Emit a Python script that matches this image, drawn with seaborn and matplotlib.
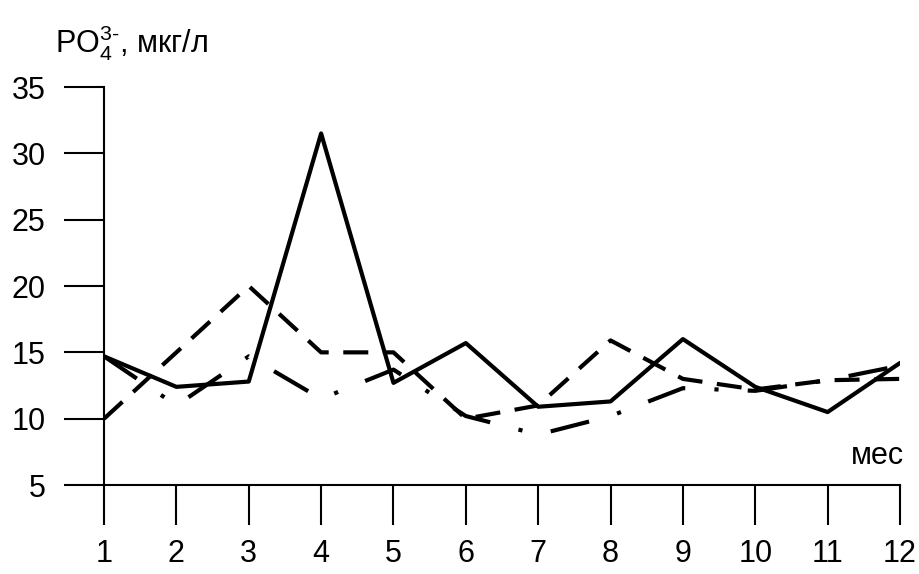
# Monthly PO4 concentration, three observation series
import pandas as pd
import matplotlib.pyplot as plt
import seaborn as sns

months = list(range(1, 13))
series_solid = [14.7, 12.4, 12.8, 31.5, 12.7, 15.7, 10.9, 11.3, 16.0, 12.4, 10.5, 14.2]
series_dashed = [10.0, 15.0, 20.0, 15.0, 15.0, 10.0, 11.0, 15.9, 13.0, 12.2, 12.9, 13.0]
series_dashdot = [14.7, 11.0, 14.7, 11.5, 13.7, 10.2, 8.8, 10.2, 12.3, 12.1, 12.9, 14.0]
y_ticks = [5, 10, 15, 20, 25, 30, 35]

df = pd.concat([
    pd.DataFrame({"month": months, "value": series_solid, "series": "a"}),
    pd.DataFrame({"month": months, "value": series_dashed, "series": "b"}),
    pd.DataFrame({"month": months, "value": series_dashdot, "series": "c"}),
])

sns.set_style("ticks")
plt.rcParams["font.family"] = ["Liberation Sans", "DejaVu Sans"]
plt.rcParams["text.color"] = "black"
plt.rcParams["xtick.color"] = "black"
plt.rcParams["ytick.color"] = "black"
plt.rcParams["mathtext.fontset"] = "custom"
plt.rcParams["mathtext.rm"] = "Liberation Sans"
plt.rcParams["mathtext.it"] = "Liberation Sans"
plt.rcParams["mathtext.default"] = "regular"

fig = plt.figure(figsize=(9.19, 5.74), dpi=100)
ax = fig.add_axes([0.1132, 0.155, 0.8661, 0.6934])

sns.lineplot(data=df, x="month", y="value", style="series", ax=ax,
             dashes={"a": "", "b": (6, 3.5), "c": (9.5, 7, 1, 7)},
             color="black", linewidth=3, legend=False)

ax.set_xlim(1, 12)
ax.set_ylim(5, 35)
ax.set_xticks(months)
ax.set_yticks(y_ticks)
ax.tick_params(direction="out", length=29, width=1.5, labelsize=22,
               color="black", labelcolor="black")
ax.tick_params(axis="y", pad=13)
ax.tick_params(axis="x", pad=10)
for side in ["top", "right"]:
    ax.spines[side].set_visible(False)
for side in ["left", "bottom"]:
    ax.spines[side].set_linewidth(1.5)
    ax.spines[side].set_color("black")
ax.set_xlabel("")
ax.set_ylabel("")

fig.text(0.06, 0.96, r"PO$_4^{3\text{-}}$, мкг/л", fontsize=22, va="top", ha="left")
ax.text(1.005, 0.035, "мес", transform=ax.transAxes, fontsize=22, ha="right", va="bottom")

plt.savefig("out.png", dpi=100)
plt.close()
